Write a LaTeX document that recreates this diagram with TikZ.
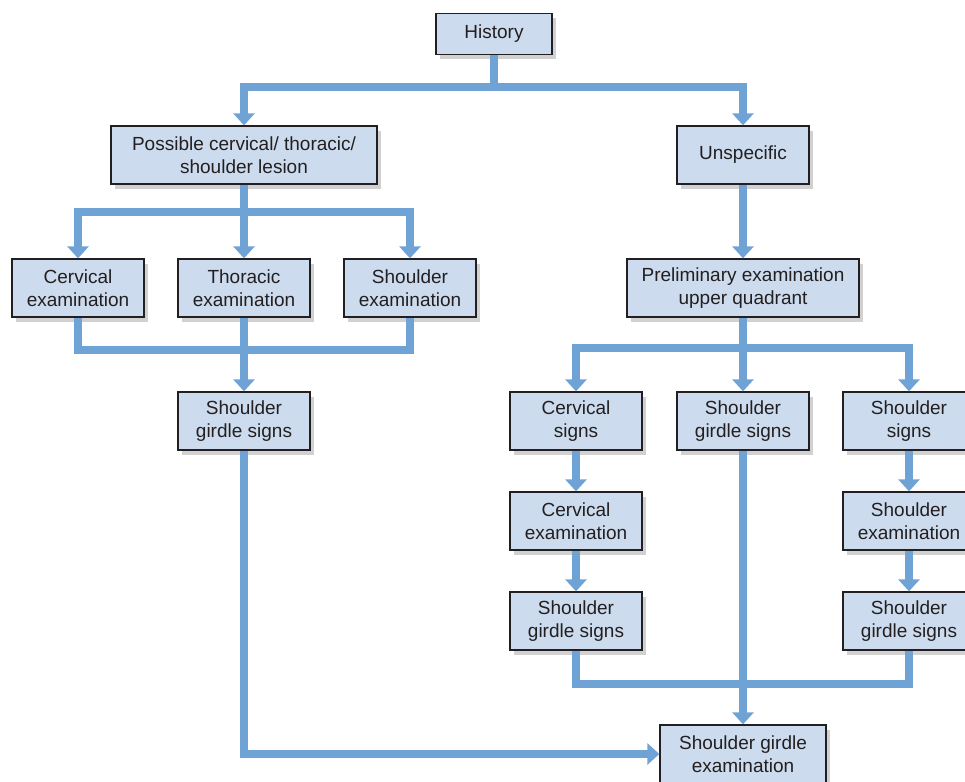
\documentclass[tikz,border=0pt]{standalone}
\usepackage{fontspec}
\setmainfont{Liberation Sans}
\usetikzlibrary{arrows.meta,shadows}
\definecolor{boxcolor}{HTML}{CCDCEE}
\definecolor{flowcolor}{HTML}{6FA3D6}
\definecolor{inkcolor}{HTML}{231F20}

\begin{document}
\begin{tikzpicture}[x=1pt,y=-1pt,
  box/.style={draw=inkcolor, line width=1.3pt, fill=boxcolor, text=inkcolor, align=center,
    inner sep=0pt, minimum width=132pt, minimum height=58pt, font=\fontsize{19}{23}\selectfont,
    drop shadow={shadow xshift=4pt, shadow yshift=-5pt, fill=black, opacity=.18}},
  flow/.style={draw=flowcolor, line width=8pt, line join=miter},
  tip/.style={-{Triangle[width=21pt,length=12pt]}}]
  \useasboundingbox (0,0) rectangle (965,781);
  % top level
  \node[box, minimum width=116pt, minimum height=41pt] (hist) at (494,34) {History};
  \node[box, minimum width=266pt] (lesion) at (244,155) {Possible cervical/ thoracic/\\shoulder lesion};
  \node[box] (unspec) at (743,155) {Unspecific};
  % left branch
  \node[box] (cexl) at (78,288) {Cervical\\examination};
  \node[box] (thex) at (244,288) {Thoracic\\examination};
  \node[box] (shexl) at (410,288) {Shoulder\\examination};
  \node[box] (sgsl) at (244,421) {Shoulder\\girdle signs};
  % right branch
  \node[box, minimum width=232pt] (prelim) at (743,288) {Preliminary examination\\upper quadrant};
  \node[box] (csig) at (576,421) {Cervical\\signs};
  \node[box] (sgsm) at (743,421) {Shoulder\\girdle signs};
  \node[box] (ssig) at (909,421) {Shoulder\\signs};
  \node[box] (cexr) at (576,521) {Cervical\\examination};
  \node[box] (shexr) at (909,521) {Shoulder\\examination};
  \node[box] (sgsa) at (576,621) {Shoulder\\girdle signs};
  \node[box] (sgsb) at (909,621) {Shoulder\\girdle signs};
  \node[box, minimum width=166pt] (sgex) at (743,754) {Shoulder girdle\\examination};
  % junctions
  \coordinate (hj) at (494,87); \coordinate (lj) at (244,212); \coordinate (pj) at (743,348);
  \coordinate (lb) at (244,350); \coordinate (rb) at (743,684);
  % flows
  \draw[flow] (hist.south) -- (hj);
  \draw[flow,tip] (hj) -| (lesion.north);
  \draw[flow,tip] (hj) -| (unspec.north);
  \draw[flow] (lesion.south) -- (lj);
  \draw[flow,tip] (lj) -| (cexl.north);
  \draw[flow,tip] (lj) -- (thex.north);
  \draw[flow,tip] (lj) -| (shexl.north);
  \draw[flow] (cexl.south) |- (lb) -| (shexl.south);
  \draw[flow,tip] (thex.south) -- (sgsl.north);
  \draw[flow,tip] (unspec.south) -- (prelim.north);
  \draw[flow] (prelim.south) -- (pj);
  \draw[flow,tip] (pj) -| (csig.north);
  \draw[flow,tip] (pj) -- (sgsm.north);
  \draw[flow,tip] (pj) -| (ssig.north);
  \draw[flow,tip] (csig) -- (cexr);
  \draw[flow,tip] (cexr) -- (sgsa);
  \draw[flow,tip] (ssig) -- (shexr);
  \draw[flow,tip] (shexr) -- (sgsb);
  \draw[flow] (sgsa.south) |- (rb) -| (sgsb.south);
  \draw[flow,tip] (sgsm.south) -- (sgex.north);
  \draw[flow,tip] (sgsl.south) |- (sgex.west);
\end{tikzpicture}
\end{document}
